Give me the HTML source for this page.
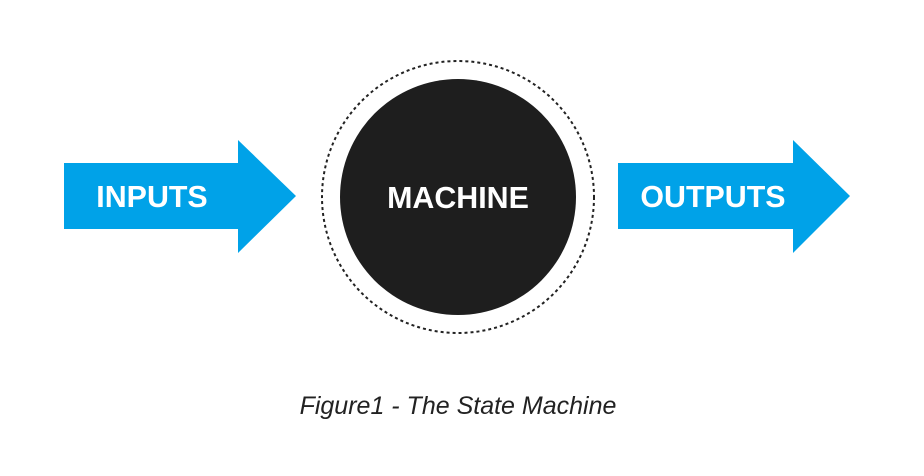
<!DOCTYPE html>
<html><head><meta charset="utf-8"><style>
html,body{margin:0;padding:0;background:#fff;}
svg{display:block;}
text{font-family:"Liberation Sans Narrow","Liberation Sans",sans-serif;}
</style></head><body>
<svg width="924" height="476" viewBox="0 0 924 476" xmlns="http://www.w3.org/2000/svg">
<polygon points="64,163 238,163 238,140 296,196 238,253 238,229 64,229" fill="#00a2e8"/>
<polygon points="618,163 793,163 793,140 850,196 793,253 793,229 618,229" fill="#00a2e8"/>
<circle cx="458" cy="197" r="136" fill="none" stroke="#222" stroke-width="2" stroke-dasharray="3,3"/>
<circle cx="458" cy="197" r="118" fill="#1e1e1e"/>
<text x="152" y="207" text-anchor="middle" fill="#fff" font-size="31" font-weight="bold" transform="translate(152 0) scale(0.98 1) translate(-152 0)">INPUTS</text>
<text x="458" y="208" text-anchor="middle" fill="#fff" font-size="31" font-weight="bold" transform="translate(458 0) scale(0.98 1) translate(-458 0)">MACHINE</text>
<text x="713" y="207" text-anchor="middle" fill="#fff" font-size="31" font-weight="bold" transform="translate(713 0) scale(0.98 1) translate(-713 0)">OUTPUTS</text>
<text x="458" y="414" text-anchor="middle" fill="#222" font-size="25" font-style="italic" transform="translate(458 0) scale(1.0 1) translate(-458 0)">Figure1 - The State Machine</text>
</svg>
</body></html>
